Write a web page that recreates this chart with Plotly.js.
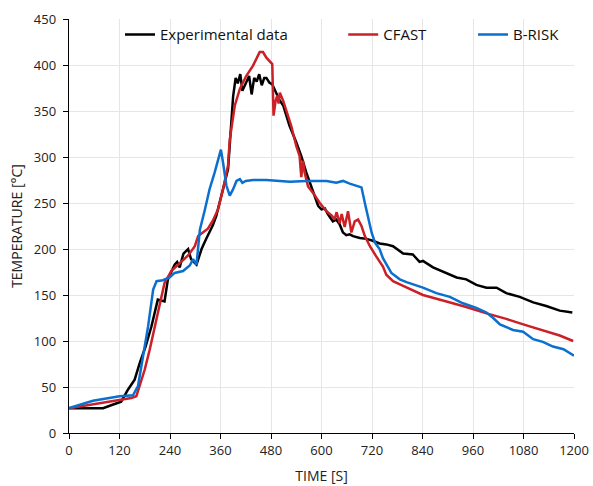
<!DOCTYPE html>
<html>
<head>
<meta charset="utf-8">
<script src="https://cdn.plot.ly/plotly-3.0.1.min.js"></script>
<style>html,body{margin:0;padding:0;background:#fff;}#chart{width:593px;height:486px;}</style>
</head>
<body>
<div id="chart"></div>
<script>
// Experimental data
const expTime = [0,40,81,105,124,140,156,168,182,196,211,227,235,251,257,263,272,283,290,303,315,325,334,342,350,362,366,378,390,396,401,407,412,417,423,428,434,440,446,452,458,464,469,476,483,493,500,509,524,540,552,564,576,584,592,600,608,615,627,635,643,651,659,667,675,691,707,722,738,754,770,794,817,833,841,865,897,921,944,968,992,1016,1039,1071,1103,1134,1166,1196];
const expTemp = [27,27,27,31,34,47,58,76,94,116,145,143,167,183,186,180,195,200,189,183,200,210,218,226,236,258,265,287,366,386,380,390,372,377,384,388,368,386,382,390,378,386,386,381,379,370,362,356,334,316,301,283,268,258,247,243,244,238,230,232,227,218,215,216,214,212,211,209,206,205,203,195,194,186,187,180,174,169,167,161,158,158,152,148,142,138,133,131];
// CFAST
const cfastTime = [0,57,120,148,160,168,180,192,204,216,227,243,263,283,299,307,318,330,342,354,366,378,382,394,406,421,437,453,461,469,483,486,491,495,498,501,509,516,528,540,548,552,556,560,568,580,596,612,625,631,636,643,648,655,663,671,679,687,695,703,715,730,746,754,770,794,841,897,944,992,1039,1087,1134,1166,1198];
const cfastTemp = [27,31,36,38,40,51,69,91,116,143,163,176,185,193,203,214,218,222,231,243,265,291,319,356,374,388,399,414,414,408,401,345,361,367,358,370,361,350,334,312,301,278,296,283,268,261,250,241,236,232,240,228,238,224,241,218,230,232,225,214,203,192,181,172,165,160,150,143,137,130,124,117,110,106,100];
// B-RISK
const briskTime = [0,57,120,152,164,176,188,200,208,223,239,251,271,287,295,303,311,323,334,346,358,361,366,374,382,390,398,406,412,420,437,469,501,525,564,612,635,651,667,683,695,703,711,719,727,738,746,754,766,786,802,841,873,905,936,968,992,1008,1024,1055,1079,1103,1126,1150,1175,1200];
const briskTemp = [27,35,40,41,51,83,116,156,165,166,169,174,176,182,189,183,221,243,265,283,305,308,294,269,258,265,274,276,272,274,275,275,274,273,274,274,272,274,271,269,267,250,232,218,207,200,190,183,174,167,164,158,152,148,141,136,131,125,118,112,110,102,99,94,91,84];

const seriesNames = ["Experimental data","CFAST","B-RISK"];
const xTicks = [0,120,240,360,480,600,720,840,960,1080,1200];
const yTicks = [0,50,100,150,200,250,300,350,400,450];

const lw = 2.5;
const traces = [
  {x: expTime, y: expTemp, name: seriesNames[0], mode: 'lines', line: {color: '#000000', width: lw}, legend: 'legend'},
  {x: cfastTime, y: cfastTemp, name: seriesNames[1], mode: 'lines', line: {color: '#cc2027', width: lw}, legend: 'legend2'},
  {x: briskTime, y: briskTemp, name: seriesNames[2], mode: 'lines', line: {color: '#0b6fd0', width: lw}, legend: 'legend3'}
];

const fam = '"Open Sans", "Noto Sans", sans-serif';
const font = {family: fam, size: 13, color: '#222'};
function leg(x) {
  return {orientation: 'h', x: x, xanchor: 'left', y: 0.962, yanchor: 'middle',
          bgcolor: 'rgba(255,255,255,0)', font: {family: fam, size: 15, color: '#111'}};
}
const layout = {
  width: 593, height: 486,
  margin: {l: 69, r: 19, t: 19, b: 53},
  paper_bgcolor: '#fff', plot_bgcolor: '#fff',
  font: font,
  showlegend: true,
  legend: leg(0.101),
  legend2: leg(0.543),
  legend3: leg(0.800),
  xaxis: {range: [0, 1200], tickvals: xTicks, ticktext: xTicks.map(String),
          showgrid: true, gridcolor: '#e6e6e6', gridwidth: 1,
          showline: true, linecolor: '#000', linewidth: 1.3,
          ticks: 'outside', ticklen: 5, tickcolor: '#000', zeroline: false,
          title: {text: 'TIME [S]', font: {family: fam, size: 14, color: '#222'}, standoff: 13}},
  yaxis: {range: [0, 450], tickvals: yTicks, ticktext: yTicks.map(String),
          showgrid: true, gridcolor: '#e6e6e6', gridwidth: 1,
          showline: true, linecolor: '#000', linewidth: 1.3,
          ticks: 'outside', ticklen: 5, tickcolor: '#000', zeroline: false,
          ticklabelstandoff: 4,
          title: {text: 'TEMPERATURE [°C]', font: {family: fam, size: 14, color: '#222'}, standoff: 8}}
};

Plotly.newPlot('chart', traces, layout, {staticPlot: true, displayModeBar: false});
</script>
</body>
</html>
